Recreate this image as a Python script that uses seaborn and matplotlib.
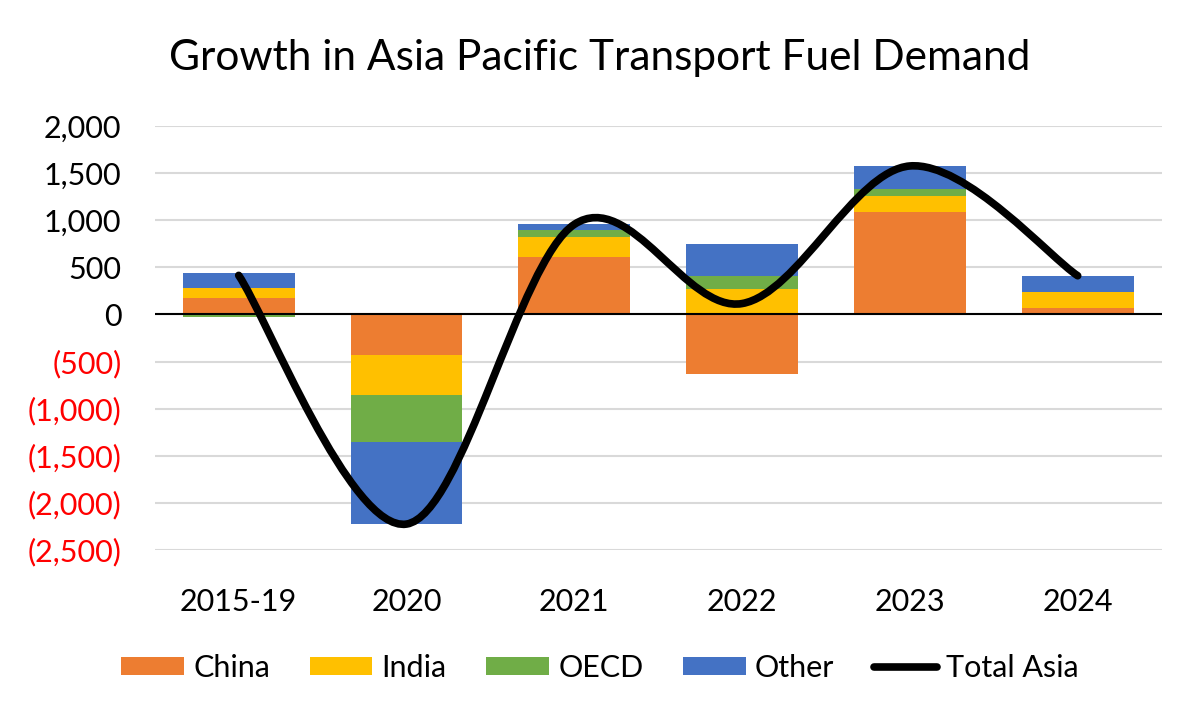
import numpy as np
import pandas as pd
import matplotlib
matplotlib.use("Agg")
import matplotlib.pyplot as plt
from matplotlib.path import Path
from matplotlib.patches import PathPatch, Patch
from matplotlib.lines import Line2D
from matplotlib.transforms import ScaledTranslation
import seaborn as sns

# ===============================
# Data (kb/d growth)
# ===============================
categories = ["2015-19", "2020", "2021", "2022", "2023", "2024"]
china = [170, -425, 605, -634, 1091, 71]
india = [110, -432, 216, 269, 170, 163]
oecd = [-25, -496, 74, 138, 67, 0]
other = [160, -871, 61, 343, 248, 177]
total_asia = [415, -2224, 956, 116, 1576, 411]

series_names = ["China", "India", "OECD", "Other"]
series_values = [china, india, oecd, other]
colors = ["#ED7D31", "#FFC000", "#70AD47", "#4472C4"]

y_ticks = [2000, 1500, 1000, 500, 0, -500, -1000, -1500, -2000, -2500]

FONT = "Lato"
sns.set_theme(style="white")
plt.rcParams["font.family"] = [FONT, "DejaVu Sans"]
plt.rcParams["text.color"] = "black"
plt.rcParams["xtick.color"] = "black"
plt.rcParams["ytick.color"] = "black"

fig = plt.figure(figsize=(12, 7.2), dpi=100)
ax = fig.add_axes([0.129, 0.236, 0.839, 0.589])

# ===============================
# Stacked bars (positives and negatives stacked separately)
# ===============================
pos_base = np.zeros(len(categories))
neg_base = np.zeros(len(categories))
for name, vals, col in zip(series_names, series_values, colors):
    vals = np.array(vals, dtype=float)
    bottoms = np.where(vals >= 0, pos_base, neg_base)
    df = pd.DataFrame({"year": categories, "value": vals})
    sns.barplot(data=df, x="year", y="value", order=categories, bottom=bottoms,
                color=col, saturation=1, width=0.667, errorbar=None,
                linewidth=0, ax=ax, zorder=2)
    pos_base = np.where(vals >= 0, pos_base + vals, pos_base)
    neg_base = np.where(vals < 0, neg_base + vals, neg_base)

# ===============================
# Smoothed total line (Bezier path through the totals)
# ===============================
pts = np.column_stack([np.arange(len(categories)), total_asia]).astype(float)
ext = np.vstack([pts[0], pts, pts[-1]])
verts = [tuple(pts[0])]
codes = [Path.MOVETO]
for i in range(len(pts) - 1):
    p0, p1, p2, p3 = ext[i], ext[i + 1], ext[i + 2], ext[i + 3]
    c1 = p1 + (p2 - p0) / 6
    c2 = p2 - (p3 - p1) / 6
    verts += [tuple(c1), tuple(c2), tuple(p2)]
    codes += [Path.CURVE4] * 3
ax.add_patch(PathPatch(Path(verts, codes), facecolor="none", edgecolor="black",
                       lw=5.5, capstyle="round", joinstyle="round", zorder=4))

ax.axhline(0, color="black", lw=1.5, zorder=3)

# ===============================
# Axes styling
# ===============================
ax.set_xlim(-0.5, len(categories) - 0.5)
ax.set_ylim(-2500, 2000)
ax.set_yticks(y_ticks)
labels = [f"{v:,}" if v >= 0 else f"({-v:,})" for v in y_ticks]
ax.set_yticklabels(labels, fontsize=22)
for v, lab in zip(y_ticks, ax.get_yticklabels()):
    if v < 0:
        lab.set_color("#FF0000")
    else:
        lab.set_transform(lab.get_transform() + ScaledTranslation(-7 / 72, 0, fig.dpi_scale_trans))
ax.tick_params(axis="y", length=0, pad=24)
ax.tick_params(axis="x", length=0, pad=27, labelsize=22)
ax.set_xlabel("")
ax.set_ylabel("")
ax.yaxis.grid(True, color="#D9D9D9", lw=1.5)
ax.xaxis.grid(False)
ax.set_axisbelow(True)
for s in ax.spines.values():
    s.set_visible(False)

fig.suptitle("Growth in Asia Pacific Transport Fuel Demand", fontsize=30.5,
             y=0.946, color="black")

handles = [Patch(facecolor=c, edgecolor="none") for c in colors]
handles.append(Line2D([0], [0], color="black", lw=5.5, solid_capstyle="round"))
fig.legend(handles, series_names + ["Total Asia"], loc="center", ncol=5,
           bbox_to_anchor=(0.5, 1 - 668 / 720), frameon=False, fontsize=22,
           handlelength=2.05, handleheight=0.5, handletextpad=0.3, columnspacing=1.3)

plt.savefig("out.png", dpi=100)
